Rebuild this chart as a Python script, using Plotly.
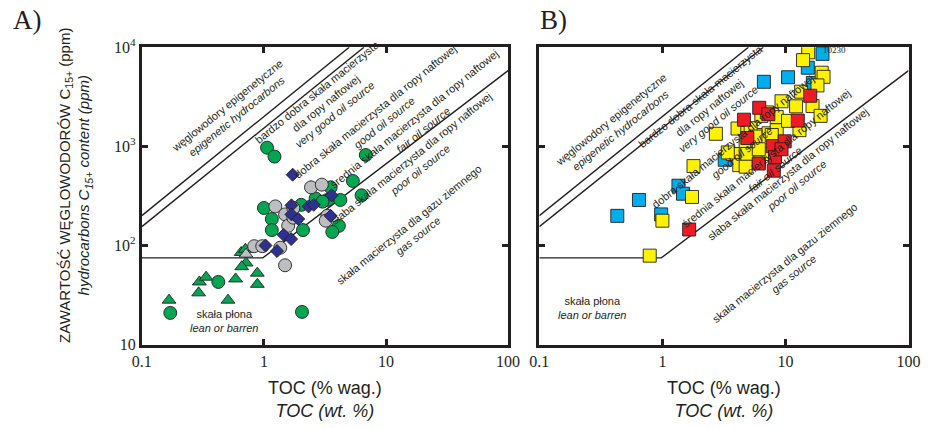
import math
import plotly.graph_objects as go

# ---------------- data ----------------
# Panel A: TOC (wt. %) and C15+ hydrocarbons (ppm)
green_circle_toc = [1.06, 1.22, 6.83, 5.35, 6.31, 0.171, 0.423, 2.05, 1.0, 1.16,
                    1.16, 2.02, 2.09, 3.52, 3.31, 4.23, 4.11, 3.63, 2.65, 3.02]
green_circle_hc = [970, 789, 818, 448, 321, 20.9, 42.9, 21.4, 239, 185,
                   143, 257, 143, 386, 288, 288, 158, 137, 298, 277]

gray_circle_toc = [2.43, 2.98, 1.24, 1.49, 1.58, 1.74, 3.31, 0.832, 0.969, 1.36, 1.49, 1.74, 3.21]
gray_circle_hc = [386, 411, 248, 206, 158, 191, 199, 98.4, 98.4, 95, 63.2, 239, 178]

diamond_toc = [1.72, 1.68, 1.68, 1.91, 2.32, 2.56, 3.58, 3.52, 1.45, 1.67, 1.03, 1.28]
diamond_hc = [518, 254, 206, 185, 248, 257, 321, 199, 128, 116, 100, 88]

green_tri_toc = [0.167, 0.296, 0.336, 0.292, 0.508, 0.586, 0.883, 0.883, 0.714, 0.658, 0.651, 0.705]
green_tri_hc = [28.1, 42.9, 47.9, 33.3, 28.1, 46.0, 52.6, 40.6, 66.7, 61.1, 85.1, 91.6]

gray_tri_toc = [0.806, 0.714]
gray_tri_hc = [96.4, 81.8]

# Panel B
blue_toc = [0.430, 0.645, 0.977, 1.35, 1.47, 3.21, 6.68, 10.5, 15.2, 16.7, 20.0]
blue_hc = [199, 288, 206, 401, 333, 733, 4480, 4980, 6210, 4360, 8570]

yellow_toc = [1.79, 1.74, 1.0, 0.789, 2.72, 3.73, 4.21, 4.08, 4.90, 6.07, 7.29, 8.49,
              13.0, 6.37, 7.06, 8.49, 9.29, 10.5, 12.2, 13.4, 16.6, 19.3, 15.3, 13.9,
              19.7, 20.4, 18.2, 5.21, 6.65, 5.70, 3.40, 4.75, 6.07, 4.90, 7.29, 6.07,
              4.75, 7.74]
yellow_hc = [632, 309, 178, 79, 1340, 837, 647, 1514, 1364, 1303, 1355, 1457,
             1457, 2030, 2200, 1975, 2850, 1808, 2535, 3560, 2550, 2030, 8890, 7410,
             5530, 5030, 4120, 1524, 1125, 1256, 869, 1125, 697, 837, 837, 935,
             624, 1303]

red_toc = [1.65, 4.60, 6.12, 7.26, 12.6, 15.9, 7.89, 9.86, 8.22, 6.07, 8.04, 9.29, 4.90]
red_hc = [145, 1858, 2450, 2110, 1820, 3240, 1006, 1125, 778, 671, 569, 935, 1214]

off_scale_toc = [18.4]
off_scale_hc = [10230]
off_scale_label = "10230"

# Classification boundaries
epi_upper_toc = [0.1, 5.0]
epi_upper_hc = [200, 10000]
epi_lower_toc = [0.1, 6.6]
epi_lower_hc = [155, 10000]
lean_toc = [0.1, 0.98, 100]
lean_hc = [75, 75, 5800]

x_tick_vals = [0.1, 1, 10, 100]
x_tick_text = ["0.1", "1", "10", "100"]
y_tick_vals = [10, 100, 1000, 10000]
y_tick_text = ["10", "10<sup>2</sup>", "10<sup>3</sup>", "10<sup>4</sup>"]

zone_text = [
    "węglowodory epigenetyczne<br><i>epigenetic hydrocarbons</i>",
    "bardzo dobra skała macierzysta<br>dla ropy naftowej<br><i>very good oil source</i>",
    "dobra skała macierzysta dla ropy naftowej<br><i>good oil source</i>",
    "średnia skała macierzysta dla ropy naftowej<br><i>fair oil source</i>",
    "słaba skała macierzysta dla ropy naftowej<br><i>poor oil source</i>",
    "skała macierzysta dla gazu ziemnego<br><i>gas source</i>",
]
lean_text = "skała płona<br><i>lean or barren</i>"

# label anchor points (TOC, ppm) for each panel
zone_pos_a = [(0.542, 2270), (3.21, 2730), (8.84, 2000), (18.6, 1690), (17.4, 671), (16.8, 143)]
lean_pos_a = (0.479, 17.4)
zone_pos_b = [(0.416, 1630), (2.44, 2440), (4.06, 984), (7.50, 671), (11.5, 464), (10.8, 58.7)]
lean_pos_b = (0.272, 23.3)

# ---------------- styling ----------------
INK = "#231f20"
GREEN = "#00a651"
GRAY = "#bcbec0"
NAVY = "#2e3192"
BLUE = "#00aeef"
YELLOW = "#fff200"
RED = "#ed1c24"
SANS = "Liberation Sans"
SERIF = "Liberation Serif"

W, H = 942, 428
fig = go.Figure()


def add_points(toc, hc, symbol, color, size, panel):
    xa, ya = ("x", "y") if panel == "a" else ("x2", "y2")
    fig.add_trace(go.Scatter(
        x=toc, y=hc, mode="markers", xaxis=xa, yaxis=ya,
        marker=dict(symbol=symbol, color=color, size=size, line=dict(color=INK, width=0.9)),
        showlegend=False, hoverinfo="skip"))


def add_line(toc, hc, panel):
    xa, ya = ("x", "y") if panel == "a" else ("x2", "y2")
    fig.add_trace(go.Scatter(
        x=toc, y=hc, mode="lines", xaxis=xa, yaxis=ya,
        line=dict(color=INK, width=1.4), showlegend=False, hoverinfo="skip"))


for p in ("a", "b"):
    add_line(epi_upper_toc, epi_upper_hc, p)
    add_line(epi_lower_toc, epi_lower_hc, p)
    add_line(lean_toc, lean_hc, p)

# panel A symbols
add_points(green_tri_toc, green_tri_hc, "triangle-up", GREEN, 12, "a")
add_points(gray_tri_toc, gray_tri_hc, "triangle-up", GRAY, 12, "a")
add_points(green_circle_toc, green_circle_hc, "circle", GREEN, 13, "a")
add_points(gray_circle_toc, gray_circle_hc, "circle", GRAY, 13, "a")
add_points(diamond_toc, diamond_hc, "diamond", NAVY, 10, "a")

# panel B symbols
add_points(blue_toc, blue_hc, "square", BLUE, 13, "b")
add_points(yellow_toc, yellow_hc, "square", YELLOW, 13, "b")
add_points(red_toc, red_hc, "square", RED, 13, "b")
fig.add_trace(go.Scatter(
    x=off_scale_toc, y=off_scale_hc, mode="markers", xaxis="x2", yaxis="y2",
    marker=dict(symbol="triangle-up", color=INK, size=12), cliponaxis=False,
    showlegend=False, hoverinfo="skip"))

# ---------------- axes ----------------
x_dom_a = [135 / W, 510 / W]
x_dom_b = [542 / W, 920 / W]
y_dom = [1 - 350 / H, 1 - 38 / H]

axis_common = dict(
    type="log", showline=True, linecolor=INK, linewidth=3, mirror="ticks",
    ticks="inside", ticklen=6, tickwidth=2.5, tickcolor=INK,
    showgrid=False, zeroline=False,
    tickfont=dict(family=SERIF, size=16, color=INK),
)
x_common = dict(axis_common, range=[-1, 2], tickvals=x_tick_vals, ticktext=x_tick_text)
y_common = dict(axis_common, range=[1, 4], tickvals=y_tick_vals, ticktext=y_tick_text)

fig.update_layout(
    width=W, height=H, margin=dict(l=0, r=0, t=0, b=0),
    paper_bgcolor="white", plot_bgcolor="white",
    xaxis=dict(x_common, domain=x_dom_a, anchor="y"),
    yaxis=dict(y_common, domain=y_dom, anchor="x"),
    xaxis2=dict(x_common, domain=x_dom_b, anchor="y2"),
    yaxis2=dict(y_common, domain=y_dom, anchor="x2", showticklabels=False),
)

# ---------------- text ----------------
ann = []
label_font = dict(family=SANS, size=11, color=INK)


def zone_labels(positions, lean_pos, xr, yr):
    for txt, (tx, ty) in zip(zone_text, positions):
        ann.append(dict(x=math.log10(tx), y=math.log10(ty), xref=xr, yref=yr,
                        text=txt, showarrow=False, textangle=-39, font=label_font,
                        align="center", xanchor="center", yanchor="middle"))
    ann.append(dict(x=math.log10(lean_pos[0]), y=math.log10(lean_pos[1]), xref=xr, yref=yr,
                    text=lean_text, showarrow=False, font=label_font, align="center"))


zone_labels(zone_pos_a, lean_pos_a, "x", "y")
zone_labels(zone_pos_b, lean_pos_b, "x2", "y2")

ann.append(dict(x=math.log10(off_scale_toc[0]) + 0.02, y=math.log10(9300), xref="x2", yref="y2",
                text=off_scale_label, showarrow=False, xanchor="left", yanchor="middle",
                font=dict(family=SERIF, size=9, color=INK)))

title_font = dict(family=SANS, size=18, color=INK)
for dom in (x_dom_a, x_dom_b):
    ann.append(dict(x=(dom[0] + dom[1]) / 2, y=1 - 408 / H, xref="paper", yref="paper",
                    text="TOC (% wag.)<br><i>TOC (wt. %)</i>", showarrow=False,
                    font=title_font, align="center", xanchor="center", yanchor="middle"))

ann.append(dict(x=67 / W, y=1 - 183 / H, xref="paper", yref="paper", textangle=-90,
                text="ZAWARTOŚĆ WĘGLOWODORÓW C<sub>15+</sub> (ppm)<br>"
                     "<i>hydrocarbons C<sub>15+</sub> content (ppm)</i>",
                showarrow=False, font=dict(family=SANS, size=15, color=INK),
                align="center", xanchor="center", yanchor="middle"))

panel_font = dict(family=SERIF, size=27, color=INK)
ann.append(dict(x=1 / W, y=1, xref="paper", yref="paper", text="A)", yshift=8,
                showarrow=False, font=panel_font, xanchor="left", yanchor="top"))
ann.append(dict(x=541 / W, y=1, xref="paper", yref="paper", text="B)", yshift=8,
                showarrow=False, font=panel_font, xanchor="left", yanchor="top"))

fig.update_layout(annotations=ann)
fig.write_html("out.html")
